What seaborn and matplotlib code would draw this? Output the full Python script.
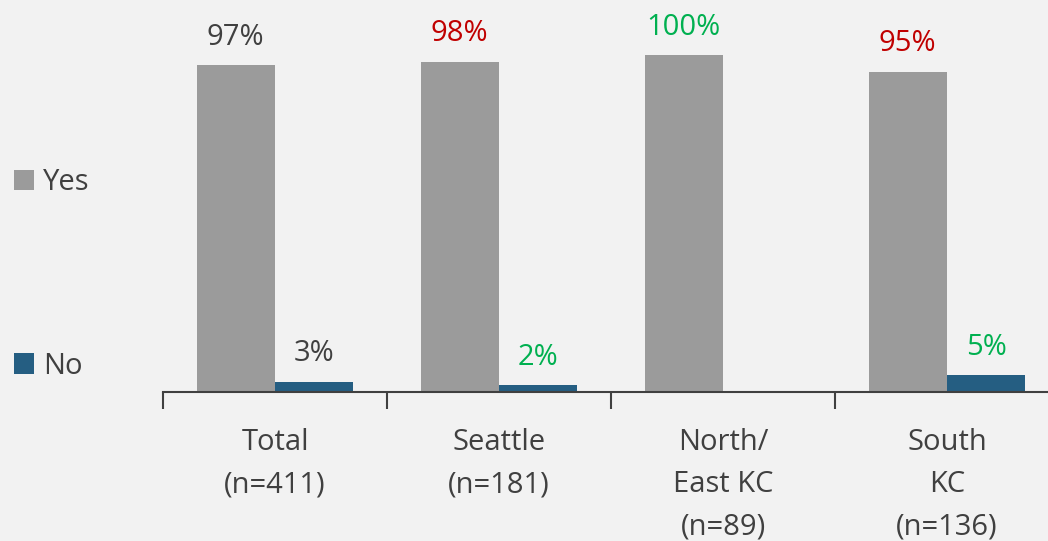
import matplotlib
matplotlib.use('Agg')
import matplotlib.pyplot as plt
import seaborn as sns
import pandas as pd
import numpy as np

# data
categories = ['Total\n(n=411)', 'Seattle\n(n=181)', 'North/\nEast KC\n(n=89)', 'South\nKC\n(n=136)']
yes_vals = [97, 98, 100, 95]
no_vals = [3, 2, 0, 5]
yes_label_colors = ['#404040', '#C00000', '#00B050', '#C00000']
no_label_colors = ['#404040', '#00B050', '#00B050', '#00B050']

bg = '#F2F2F2'
sns.set_style('white')
plt.rcParams['font.family'] = ['Open Sans', 'DejaVu Sans']

df = pd.DataFrame({
    'cat': categories * 2,
    'answer': ['Yes'] * 4 + ['No'] * 4,
    'pct': yes_vals + no_vals,
})

fig = plt.figure(figsize=(10.48, 5.41), dpi=100, facecolor=bg)
# axes placed in pixel terms: x axis from 163px to 1059px, baseline at 392px
ax = fig.add_axes([163 / 1048, 1 - 392 / 541, 896 / 1048, 392 / 541])
ax.set_facecolor(bg)

sns.barplot(data=df, x='cat', y='pct', hue='answer', hue_order=['Yes', 'No'],
            palette={'Yes': '#9B9B9B', 'No': '#255E82'}, width=0.7,
            saturation=1, linewidth=0, ax=ax, legend=True)

ax.set_ylim(0, 392 / 337 * 100)
ax.set_xlim(-0.5, 3.5)

# value labels
for cont, vals, cols in zip(ax.containers, [yes_vals, no_vals], [yes_label_colors, no_label_colors]):
    for bar, v, c in zip(cont, vals, cols):
        if v == 0:
            continue
        ax.text(bar.get_x() + bar.get_width() / 2, v + 4.0, f'{v}%',
                ha='center', va='bottom', fontsize=21, color=c)

for s in ['top', 'right', 'left']:
    ax.spines[s].set_visible(False)
ax.spines['bottom'].set_color('#404040')
ax.spines['bottom'].set_linewidth(1.5)
ax.set_yticks([])
ax.set_xlabel('')
ax.set_ylabel('')
ax.set_xticks(range(4))
ax.set_xticklabels(categories, fontsize=21, color='#404040', linespacing=1.6)
ax.tick_params(axis='x', which='major', bottom=True, length=0, pad=26)
ax.set_xticks(np.arange(-0.5, 4, 1), minor=True)
ax.tick_params(axis='x', which='minor', bottom=True, direction='out', length=12,
               width=1.5, color='#404040')

# legend on the left side
handles, labels = ax.get_legend_handles_labels()
ax.get_legend().remove()
fig.legend(handles, labels, loc='upper left', bbox_to_anchor=(14 / 1048, 1 - 168 / 541),
           frameon=False, fontsize=21, labelcolor='#404040', handlelength=0.7,
           handleheight=0.7, handletextpad=0.3, labelspacing=5.3,
           borderpad=0, borderaxespad=0)

fig.savefig('out.png', dpi=100, facecolor=bg)
